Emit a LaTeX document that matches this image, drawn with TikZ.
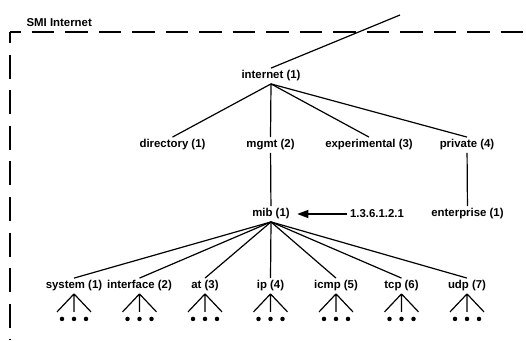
\documentclass[tikz,border=0pt]{standalone}
\usepackage{fontspec}
\setmainfont{Liberation Sans}
\usetikzlibrary{arrows.meta}
\begin{document}
\begin{tikzpicture}[x=1pt,y=-1pt,line width=1.2pt,
    every node/.style={font=\fontsize{11.4}{13}\selectfont\bfseries,inner sep=2pt},
    dot/.style={circle,fill,inner sep=0pt,minimum size=4.5pt}]
    \useasboundingbox (0,0) rectangle (526,340);

    % dashed frame of the subtree
    \draw[line width=2pt,dash pattern=on 22.5pt off 11pt,dash phase=12pt] (10,32) -- (526,32);
    \draw[line width=2pt,dash pattern=on 24pt off 11.6pt,dash phase=13pt] (10,32) -- (10,340);
    \node[anchor=west] (smi) at (24,23) {SMI Internet};

    \coordinate (up) at (400,15);
    \node (internet) at (271,76) {internet (1)};

    \node (dir) at (172.5,145) {directory (1)};
    \node (mgmt) at (270.5,145) {mgmt (2)};
    \node (exp) at (369,145) {experimental (3)};
    \node (priv) at (467,145) {private (4)};

    \node (mib) at (271,214) {mib (1)};
    \node (oid) at (377,214) {1.3.6.1.2.1};
    \node (ent) at (467.5,214) {enterprise (1)};

    \node (sys) at (74,286) {system (1)};
    \node (iface) at (139.5,286) {interface (2)};
    \node (atr) at (205,286) {at (3)};
    \node (ip) at (270.5,286) {ip (4)};
    \node (icmp) at (336,286) {icmp (5)};
    \node (tcp) at (401.5,286) {tcp (6)};
    \node (udp) at (467,286) {udp (7)};

    \draw (internet.north) -- (up);
    \draw (internet.south) -- (dir.north);
    \draw (internet.south) -- (mgmt.north);
    \draw (internet.south) -- (exp.north);
    \draw (internet.south) -- (priv.north);
    \draw (mgmt) -- (mib);
    \draw (priv) -- (ent);
    \draw[-{Triangle[length=11pt,width=8pt]},shorten >=5pt] (oid) -- (mib);

    \foreach \n in {sys,iface,atr,ip,icmp,tcp,udp} {
        \draw (mib.south) -- (\n.north);
        \draw (\n.south) -- +(-17,18) (\n.south) -- +(0,18) (\n.south) -- +(17,18);
        \path (\n.south) +(-12,25) node[dot] {} +(0,25) node[dot] {} +(12,25) node[dot] {};
    }
\end{tikzpicture}
\end{document}
